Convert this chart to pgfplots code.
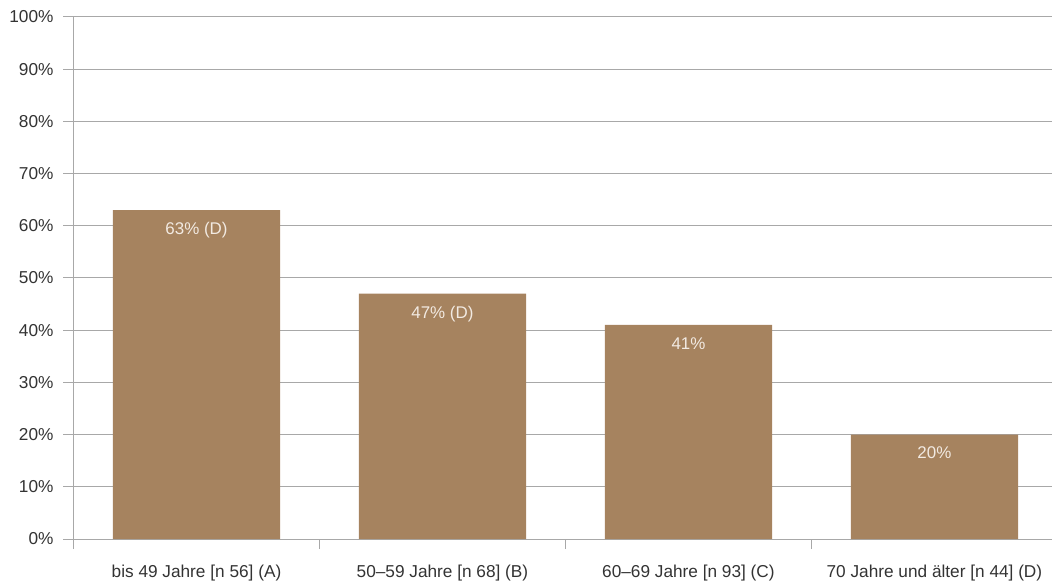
\documentclass[border=0pt]{standalone}
\usepackage{pgfplots}
\pgfplotsset{compat=1.18}
\usepackage{fontspec}
\setmainfont{Liberation Sans}
\definecolor{barc}{HTML}{A6835F}
\definecolor{gridc}{HTML}{A8A8A8}
\definecolor{txt}{HTML}{333333}
\definecolor{lbl}{HTML}{F2EAE2}
\begin{document}
\begin{tikzpicture}
\begin{axis}[name=a, scale only axis, width=978.5bp, height=522bp,
  xmin=-0.5, xmax=3.478, ymin=0, ymax=100,
  axis lines*=left,
  axis line style={gridc, line width=1bp},
  ytick={0,10,...,100},
  yticklabel={\pgfmathprintnumber{\tick}\%},
  /pgf/number format/assume math mode=true,
  ymajorgrids, grid style={gridc, line width=1bp},
  xtick={0,1,2,3},
  xticklabels={bis 49 Jahre [n 56] (A), 50--59 Jahre [n 68] (B), 60--69 Jahre [n 93] (C), 70 Jahre und älter [n 44] (D)},
  minor xtick={-0.5,0.5,1.5,2.5},
  tick align=outside,
  major tick length=10bp, minor tick length=10bp,
  x tick style={draw=none},
  minor x tick style={draw=gridc, line width=1bp},
  y tick style={gridc, line width=1bp},
  ticklabel style={font=\fontsize{17.3}{20}\selectfont, text=txt},
  xticklabel style={yshift=-12bp},
  yticklabel style={xshift=-6.5bp},
  clip=false,
]
\addplot[ybar, bar width=0.68, fill=barc, draw=none,
  point meta=explicit symbolic,
  nodes near coords={\pgfplotspointmeta},
  every node near coord/.style={anchor=north, yshift=-9bp, text=lbl, font=\fontsize{17}{20}\selectfont}]
  coordinates {(0,63) [63\% (D)] (1,47) [47\% (D)] (2,41) [41\%] (3,20) [20\%]};
\end{axis}
\pgfresetboundingbox
\path ([shift={(-73.5bp,-44bp)}]a.south west) rectangle ([shift={(0,17bp)}]a.north east);
\end{tikzpicture}
\end{document}
